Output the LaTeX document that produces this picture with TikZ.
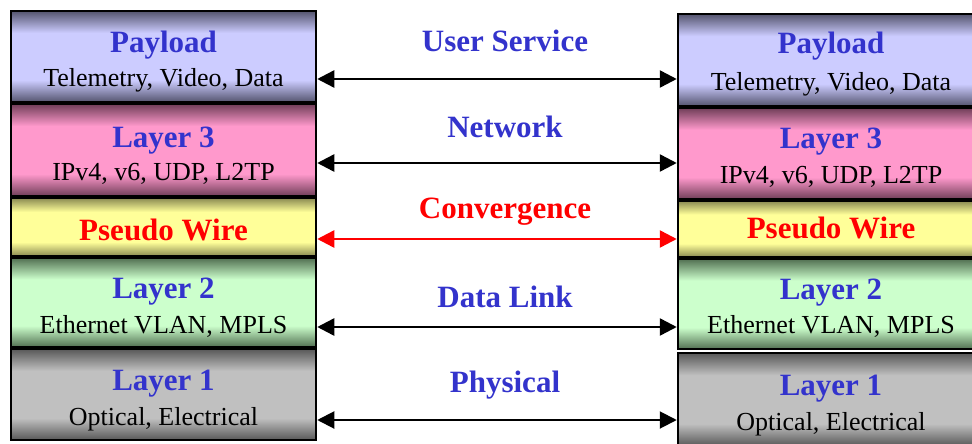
\documentclass[tikz,border=0pt]{standalone}
\usepackage{fontspec}
\setmainfont{Liberation Serif}
\usetikzlibrary{arrows.meta}
\definecolor{ttlblue}{RGB}{51,51,204}
\definecolor{payD}{RGB}{84,84,110}
\definecolor{payL}{RGB}{204,204,255}
\definecolor{l3D}{RGB}{112,62,88}
\definecolor{l3L}{RGB}{255,153,204}
\definecolor{pwD}{RGB}{138,138,82}
\definecolor{pwL}{RGB}{255,255,153}
\definecolor{l2D}{RGB}{82,112,82}
\definecolor{l2L}{RGB}{204,255,204}
\definecolor{l1D}{RGB}{88,88,88}
\definecolor{l1L}{RGB}{192,192,192}
\pgfdeclareverticalshading{shpay}{100bp}{color(0bp)=(payD); color(25bp)=(payD); color(37bp)=(payL); color(63bp)=(payL); color(75bp)=(payD); color(100bp)=(payD)}
\pgfdeclareverticalshading{shlthree}{100bp}{color(0bp)=(l3D); color(25bp)=(l3D); color(37bp)=(l3L); color(63bp)=(l3L); color(75bp)=(l3D); color(100bp)=(l3D)}
\pgfdeclareverticalshading{shpw}{100bp}{color(0bp)=(pwD); color(25bp)=(pwD); color(37bp)=(pwL); color(63bp)=(pwL); color(75bp)=(pwD); color(100bp)=(pwD)}
\pgfdeclareverticalshading{shltwo}{100bp}{color(0bp)=(l2D); color(25bp)=(l2D); color(37bp)=(l2L); color(63bp)=(l2L); color(75bp)=(l2D); color(100bp)=(l2D)}
\pgfdeclareverticalshading{shlone}{100bp}{color(0bp)=(l1D); color(25bp)=(l1D); color(37bp)=(l1L); color(63bp)=(l1L); color(75bp)=(l1D); color(100bp)=(l1D)}
\tikzset{
  layerbox/.style={draw=black, line width=2.5pt, inner sep=0pt, rectangle},
  ttl/.style={font=\fontsize{31}{31}\selectfont\bfseries, text=ttlblue, anchor=base, inner sep=0pt},
  redttl/.style={font=\fontsize{31}{31}\selectfont\bfseries, text=red, anchor=base, inner sep=0pt},
  subttl/.style={font=\fontsize{26}{26}\selectfont, text=black, anchor=base, inner sep=0pt},
  tip/.tip={Triangle[length=17pt,width=17pt]},
  dblarrow/.style={tip-tip, line width=2.5pt, draw=black},
}
\begin{document}
\begin{tikzpicture}[x=1pt,y=-1pt]
\useasboundingbox (0,0) rectangle (972,444);
\fill[white] (0,0) rectangle (972,444);
\clip (0,0) rectangle (972,444);
% left stack
\node[layerbox, shading=shpay, minimum width=305pt, minimum height=91pt] (lpay) at (163.5,56.5) {};
\node[layerbox, shading=shlthree, minimum width=305pt, minimum height=92pt] (lthree) at (163.5,150) {};
\node[layerbox, shading=shpw, minimum width=305pt, minimum height=58pt] (lpw) at (163.5,227) {};
\node[layerbox, shading=shltwo, minimum width=305pt, minimum height=89pt] (ltwo) at (163.5,302.5) {};
\node[layerbox, shading=shlone, minimum width=305pt, minimum height=91pt] (lone) at (163.5,394.5) {};
% right stack
\node[layerbox, shading=shpay, minimum width=306pt, minimum height=92pt] (rpay) at (831,60) {};
\node[layerbox, shading=shlthree, minimum width=306pt, minimum height=91pt] (rthree) at (831,153.5) {};
\node[layerbox, shading=shpw, minimum width=306pt, minimum height=56pt] (rpw) at (831,229) {};
\node[layerbox, shading=shltwo, minimum width=306pt, minimum height=90pt] (rtwo) at (831,304) {};
\node[layerbox, shading=shlone, minimum width=306pt, minimum height=93pt] (rone) at (831,399.5) {};
% left texts
\node[ttl] (lpayt) at (163.5,53) {Payload};
\node[subttl] (lpays) at (163.5,87) {Telemetry, Video, Data};
\node[ttl] (lthreet) at (163.5,147) {Layer 3};
\node[subttl] (lthrees) at (163.5,180) {IPv4, v6, UDP, L2TP};
\node[redttl] (lpwt) at (163.5,240) {Pseudo Wire};
\node[ttl] (ltwot) at (163.5,298) {Layer 2};
\node[subttl] (ltwos) at (163.5,333) {Ethernet VLAN, MPLS};
\node[ttl] (lonet) at (163.5,390) {Layer 1};
\node[subttl] (lones) at (163.5,425) {Optical, Electrical};
% right texts
\node[ttl] (rpayt) at (831,54) {Payload};
\node[subttl] (rpays) at (831,90) {Telemetry, Video, Data};
\node[ttl] (rthreet) at (831,148) {Layer 3};
\node[subttl] (rthrees) at (831,183) {IPv4, v6, UDP, L2TP};
\node[redttl] (rpwt) at (831,238) {Pseudo Wire};
\node[ttl] (rtwot) at (831,299) {Layer 2};
\node[subttl] (rtwos) at (831,333) {Ethernet VLAN, MPLS};
\node[ttl] (ronet) at (831,395) {Layer 1};
\node[subttl] (rones) at (831,430) {Optical, Electrical};
% middle labels
\node[ttl] (usr) at (505,52) {User Service};
\node[ttl] (net) at (505,137) {Network};
\node[redttl] (conv) at (505,218) {Convergence};
\node[ttl] (dl) at (505,307) {Data Link};
\node[ttl] (phy) at (505,392) {Physical};
% arrows
\draw[dblarrow] (lpay.east |- 0,79) -- (rpay.west |- 0,79);
\draw[dblarrow] (lthree.east |- 0,163) -- (rthree.west |- 0,163);
\draw[dblarrow, draw=red, color=red] (lpw.east |- 0,239) -- (rpw.west |- 0,239);
\draw[dblarrow] (ltwo.east |- 0,327) -- (rtwo.west |- 0,327);
\draw[dblarrow, line width=2pt] (lone.east |- 0,420) -- (rone.west |- 0,420);
\end{tikzpicture}
\end{document}
